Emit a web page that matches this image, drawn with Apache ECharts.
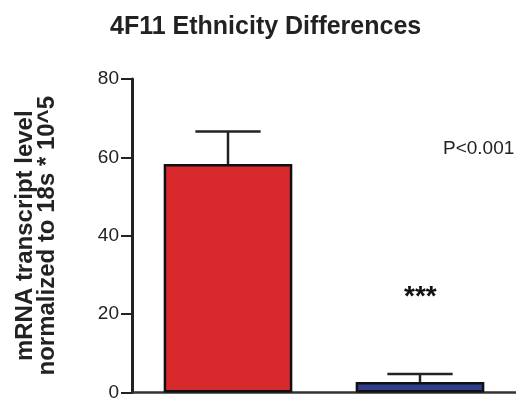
<!DOCTYPE html>
<html><head><meta charset="utf-8">
<script src="https://cdn.jsdelivr.net/npm/echarts@6/dist/echarts.min.js"></script>
<style>html,body{margin:0;padding:0;background:#fff}#c{width:516px;height:402px}</style>
</head><body><div id="c"></div>
<script>
const categories = ['Group A', 'Group B'];
const meanValues = [58.3, 2.7];
const errorTops = [66.6, 4.7];
const barColors = ['#d8292c', '#2e3d8c'];
const yTicks = [0, 20, 40, 60, 80];

const chart = echarts.init(document.getElementById('c'), null, {renderer: 'canvas'});
const sans = '"Liberation Sans", Arial, sans-serif';
chart.setOption({
  animation: false,
  backgroundColor: '#fff',
  title: {
    text: '4F11 Ethnicity Differences', left: 105, top: 10,
    textStyle: {fontFamily: sans, fontWeight: 'bold', fontSize: 25, color: '#222'}
  },
  grid: {left: 132, right: 0, top: 79, bottom: 5, containLabel: false},
  xAxis: {
    type: 'category', data: categories,
    axisLine: {lineStyle: {color: '#333', width: 2.5}},
    axisTick: {alignWithLabel: true, length: 8, lineStyle: {color: '#222', width: 2}},
    axisLabel: {show: false}
  },
  yAxis: {
    type: 'value', min: 0, max: 80, interval: 20,
    name: 'mRNA transcript level\nnormalized to 18s * 10^5',
    nameLocation: 'middle', nameGap: 74, nameRotate: 90,
    nameTextStyle: {fontFamily: sans, fontWeight: 'bold', fontSize: 24, lineHeight: 22, color: '#222'},
    splitLine: {show: false},
    axisLine: {show: true, lineStyle: {color: '#222', width: 3}},
    axisTick: {show: true, length: 11, lineStyle: {color: '#222', width: 2}},
    axisLabel: {
      fontFamily: sans, fontSize: 19, color: '#222', margin: 13,
      formatter: v => yTicks.includes(v) ? String(v) : ''
    }
  },
  series: [
    {
      type: 'bar', barWidth: '67%',
      data: meanValues.map((v, i) => ({value: v, itemStyle: {color: barColors[i]}})),
      itemStyle: {borderColor: '#111', borderWidth: 2.5},
      z: 2
    },
    {
      type: 'custom', z: 1,
      data: errorTops.map((e, i) => [i, meanValues[i], e]),
      renderItem: function (params, api) {
        const top = api.coord([api.value(0), api.value(2)]);
        const base = api.coord([api.value(0), api.value(1)]);
        const half = api.size([1, 0])[0] * 0.17;
        const st = {stroke: '#222', lineWidth: 2.5};
        return {type: 'group', children: [
          {type: 'line', shape: {x1: top[0], y1: top[1], x2: base[0], y2: base[1]}, style: st},
          {type: 'line', shape: {x1: top[0] - half, y1: top[1], x2: top[0] + half, y2: top[1]}, style: st}
        ]};
      }
    }
  ],
  graphic: [
    {type: 'text', left: 443, top: 139, style: {text: 'P<0.001', fontFamily: sans, fontSize: 19, fill: '#222'}},
    {type: 'text', left: 404, top: 283, style: {text: '***', fontFamily: sans, fontSize: 28, fontWeight: 'bold', fill: '#111'}}
  ]
});
</script></body></html>
